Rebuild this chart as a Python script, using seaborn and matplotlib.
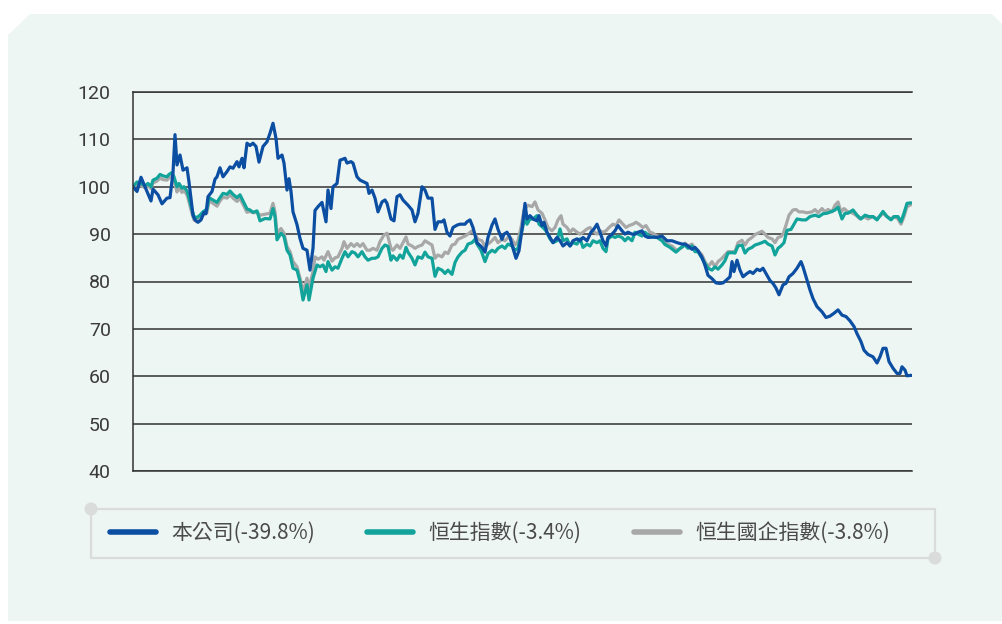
import numpy as np
import pandas as pd
import matplotlib
matplotlib.use('Agg')
import matplotlib.pyplot as plt
from matplotlib.patches import Polygon, Rectangle, Ellipse
from matplotlib.lines import Line2D
import seaborn as sns

# legend labels (draw order is reversed so the company line sits on top)
series_names = ['本公司(-39.8%)', '恒生指數(-3.4%)', '恒生國企指數(-3.8%)']
series_colors = ['#0B4EA2', '#12A39B', '#A8A8A8']

# 本公司 - days since start / rebased value
company_days = [0, 4, 8, 12, 18, 20, 25, 29, 34, 37, 40, 42, 44, 47, 50, 54, 56, 60, 62, 65,
                68, 71, 73, 75, 79, 82, 84, 87, 90, 94, 97, 100, 104, 106, 109, 111, 114, 117, 120, 123,
                126, 130, 134, 137, 140, 143, 145, 149, 151, 154, 156, 158, 160, 164, 167, 170, 174, 177, 180, 182,
                185, 189, 191, 193, 195, 198, 200, 204, 207, 212, 214, 218, 220, 224, 227, 231, 234, 236, 239, 242,
                245, 249, 252, 254, 258, 261, 264, 267, 270, 275, 279, 282, 285, 289, 292, 295, 299, 302, 305, 309,
                311, 314, 317, 320, 324, 327, 332, 334, 337, 340, 344, 349, 352, 355, 359, 362, 365, 369, 371, 374,
                377, 380, 383, 386, 389, 392, 394, 397, 400, 404, 406, 409, 411, 414, 417, 420, 424, 427, 430, 434,
                437, 440, 444, 447, 450, 454, 458, 461, 464, 467, 470, 473, 475, 479, 482, 485, 489, 492, 495, 499,
                502, 505, 509, 512, 515, 520, 524, 529, 534, 539, 544, 549, 552, 555, 559, 562, 565, 569, 572, 575,
                579, 583, 587, 590, 594, 597, 599, 601, 604, 607, 610, 614, 617, 620, 624, 627, 630, 634, 637, 640,
                643, 646, 650, 653, 656, 660, 664, 668, 670, 674, 677, 680, 684, 689, 693, 697, 701, 705, 709, 713,
                717, 721, 724, 728, 731, 735, 740, 744, 747, 750, 753, 756, 760, 764, 767, 769, 772, 774, 778]
company_vals = [100, 99, 102, 100, 97, 99.5, 98.3, 96.4, 97.6, 97.7, 103, 111, 104.6, 106.7, 103.5, 104, 101, 94, 93, 92.5,
                93, 94.6, 94.3, 97.9, 99, 101.6, 102.1, 104, 102.1, 103.2, 104.2, 103.9, 105.3, 104.2, 106, 104, 109.2, 108.7, 109.2, 108.5,
                105.2, 108.5, 109.5, 111.3, 113.4, 110.2, 106, 106.7, 105, 99.3, 101.7, 99, 94.7, 92, 89.1, 87, 86.6, 82.4, 87, 95,
                95.8, 96.7, 94.7, 92.6, 99.3, 95.4, 100, 100.7, 105.6, 106, 105, 105.3, 105, 102.1, 101.4, 101, 100.7, 98.6, 99.3, 97.6,
                94.7, 96.8, 97.2, 96.5, 93.2, 92.8, 97.9, 98.3, 97.2, 96.1, 95.1, 92.6, 94.4, 100, 99.3, 97.6, 97.6, 91, 92.6, 92.6,
                93, 90.4, 89.6, 91.4, 91.9, 92.1, 92.1, 92.6, 93, 91.4, 88.2, 87.2, 86.2, 89.3, 91.9, 93.2, 91, 88.9, 90, 90.4,
                89.3, 87, 84.9, 86.5, 91, 96.5, 93.2, 93.9, 93.2, 92.8, 93.9, 91.8, 92.5, 90.4, 89.3, 88.2, 89.3, 88.6, 87.5, 88.2,
                87.5, 88.6, 89, 88.6, 89.3, 88.6, 90.4, 91.1, 92.1, 90.4, 88.6, 87.5, 89.3, 90, 90.7, 91.8, 90.7, 90, 90.4, 90,
                90, 90.4, 90.7, 89.6, 89.3, 89.4, 89.3, 89.6, 88.6, 88.6, 88.2, 87.9, 87.9, 87.5, 86.8, 87.2, 86.5, 85.1, 83.4, 81.3,
                80.6, 79.7, 79.6, 79.7, 80.4, 81, 84.2, 82.1, 84.5, 82.4, 81, 81.7, 82.1, 81.7, 82.6, 82.3, 82.8, 81.3, 80.2, 79.6,
                78.6, 77.2, 79.3, 79.6, 81, 81.7, 82.8, 84.2, 83.1, 80.3, 78.2, 76.4, 74.7, 73.6, 72.4, 72.7, 73.3, 74, 72.9, 72.6,
                71.7, 70.5, 69, 67.3, 65.5, 64.6, 64.1, 62.8, 64.1, 65.9, 65.9, 63.1, 61.7, 60.6, 60.6, 62, 61.3, 60.1, 60.2]

# 恒生指數
hsi_days = [0, 4, 8, 12, 15, 18, 20, 24, 27, 30, 34, 36, 39, 41, 44, 46, 49, 51, 54, 56,
            59, 61, 64, 67, 70, 74, 76, 80, 84, 87, 90, 94, 97, 100, 104, 107, 110, 114, 117, 120,
            124, 127, 132, 137, 140, 142, 144, 148, 151, 154, 157, 160, 164, 167, 170, 174, 176, 180, 184, 187,
            190, 193, 195, 199, 202, 205, 209, 212, 215, 219, 222, 225, 229, 232, 235, 239, 242, 245, 249, 252,
            255, 258, 260, 264, 267, 270, 273, 275, 279, 282, 285, 289, 292, 295, 299, 302, 305, 309, 312, 315,
            319, 322, 325, 329, 332, 335, 339, 342, 344, 348, 352, 355, 359, 362, 365, 369, 372, 375, 379, 382,
            385, 388, 392, 394, 397, 400, 404, 406, 410, 413, 417, 420, 424, 427, 430, 434, 437, 440, 444, 447,
            450, 454, 457, 460, 464, 467, 470, 473, 475, 479, 482, 485, 489, 492, 495, 499, 502, 505, 509, 512,
            517, 524, 529, 532, 537, 543, 547, 552, 555, 559, 562, 565, 569, 572, 575, 579, 582, 585, 589, 592,
            595, 599, 602, 605, 609, 612, 615, 619, 622, 625, 629, 632, 635, 639, 642, 645, 648, 651, 654, 658,
            661, 664, 669, 673, 677, 682, 686, 690, 694, 699, 702, 705, 709, 712, 715, 720, 724, 728, 732, 736,
            740, 744, 750, 754, 758, 761, 765, 768, 771, 774, 778]
hsi_vals = [100, 101, 100.7, 100.2, 100.7, 100, 101.4, 101.8, 102.6, 102.3, 102.1, 102.6, 103, 102.1, 100, 100.7, 99.7, 100, 99.1, 97.6,
            95.1, 93.7, 93.5, 94, 94.7, 95.3, 97.7, 97.2, 96.7, 97.7, 98.6, 98.4, 99.1, 98.4, 97.7, 98.3, 97, 95.3, 95.1, 94.6,
            94.9, 92.8, 93.3, 93.2, 95.4, 93.7, 88.8, 90.2, 89.5, 86.6, 85.6, 82.8, 82.4, 80, 76.1, 79.3, 76.1, 80.7, 83.5, 83.1,
            83.5, 82.1, 84.2, 82.4, 83.1, 82.8, 84.9, 86.3, 85.2, 86.3, 86, 85.2, 86.3, 85.2, 84.5, 84.9, 84.9, 85.2, 87, 87.7,
            87.4, 84.5, 85.4, 84.5, 85.6, 84.9, 87.2, 86.2, 84.9, 83.5, 85.2, 84.9, 86.2, 85.2, 84.9, 81.1, 82.8, 82.4, 81.7, 82.4,
            81.5, 84, 85.2, 86.2, 86.6, 87.9, 88.2, 88.9, 87.9, 86.6, 84.2, 85.9, 86.6, 86.2, 87, 87.5, 87, 87.9, 87.5, 86.6,
            87, 90, 93.5, 92.1, 93.2, 93.2, 93.9, 92.1, 91.4, 90.7, 89, 88.2, 88.6, 91.1, 88.6, 89, 87.5, 88.2, 87.9, 89,
            87.2, 87.9, 87.5, 88.6, 88.2, 88.6, 87, 86.3, 89, 89.6, 89.3, 89.6, 89.3, 88.6, 89.3, 88.6, 90.4, 90, 89.6, 90.4,
            89.4, 89.3, 88.6, 87.8, 87.2, 86.2, 87, 87.7, 87, 87.5, 86.3, 86.3, 84.9, 83.8, 82.8, 82.4, 83.1, 82.6, 83.5, 84.4,
            86, 86.1, 86, 87.5, 87.7, 86, 86.8, 87.2, 87.7, 87.9, 88.2, 88.5, 87.9, 87.5, 85.6, 87, 87.5, 88.2, 90.8, 91,
            92.1, 93.2, 93, 93, 93.7, 94, 93.7, 94.3, 94.4, 94.8, 95.1, 95.7, 93.2, 94.4, 94.4, 95.1, 94, 93.2, 94, 93.7,
            93.7, 93, 94.8, 93.7, 93, 93.7, 93.7, 92.6, 94.4, 96.5, 96.6]

# 恒生國企指數
hscei_days = [0, 4, 8, 12, 15, 18, 20, 24, 27, 30, 34, 36, 39, 41, 44, 46, 49, 51, 54, 56,
              59, 61, 64, 67, 70, 74, 76, 80, 84, 87, 90, 94, 97, 100, 104, 107, 110, 114, 117, 120,
              124, 127, 132, 137, 140, 142, 144, 148, 151, 154, 157, 160, 164, 167, 170, 174, 176, 180, 182, 185,
              189, 191, 195, 199, 202, 205, 209, 211, 214, 218, 221, 224, 227, 230, 234, 237, 240, 244, 247, 251,
              254, 258, 260, 264, 267, 270, 273, 275, 279, 282, 285, 289, 292, 295, 299, 302, 305, 309, 312, 315,
              319, 322, 325, 329, 332, 335, 339, 342, 345, 349, 352, 355, 359, 362, 365, 369, 372, 375, 379, 382,
              385, 388, 391, 395, 399, 402, 405, 409, 412, 415, 419, 422, 425, 428, 430, 434, 437, 440, 444, 447,
              450, 454, 457, 460, 464, 467, 470, 473, 476, 480, 483, 486, 490, 493, 496, 500, 503, 506, 510, 513,
              517, 520, 524, 529, 534, 539, 544, 549, 552, 555, 559, 562, 565, 569, 572, 575, 579, 582, 585, 589,
              592, 595, 599, 602, 605, 609, 612, 615, 619, 622, 625, 629, 632, 635, 639, 642, 645, 648, 650, 653,
              656, 660, 663, 666, 670, 674, 679, 682, 685, 689, 692, 695, 699, 702, 705, 708, 711, 715, 719, 723,
              727, 731, 735, 740, 744, 750, 754, 758, 761, 765, 768, 771, 774, 778]
hscei_vals = [100, 100.5, 100.2, 99.8, 100.2, 99.6, 100.8, 101.2, 101.8, 101.5, 101.4, 101.9, 102.3, 101.4, 98.9, 99.8, 98.8, 99.2, 98.3, 96.8,
              94.3, 93, 92.6, 93.2, 94, 94.6, 97, 96.5, 95.9, 97, 97.8, 97.6, 98.3, 97.6, 96.9, 97.5, 96.3, 94.6, 94.8, 94.5,
              94.6, 94, 94.2, 94.4, 96.5, 94.7, 90.2, 91.2, 90.2, 87.4, 86.3, 84.2, 83.1, 80.7, 77.8, 80.7, 78.6, 82.1, 85.2, 84.7,
              85.2, 84.5, 86.3, 84.3, 85, 85.2, 87, 88.4, 87, 88, 87.4, 88, 87.4, 88, 86.6, 86.6, 87, 86.6, 88.4, 89.8,
              90.2, 87, 86.6, 87.7, 87, 88.2, 89.4, 87.9, 87.5, 87, 87.4, 87.7, 88.6, 88.2, 87.7, 84.9, 85.6, 85.2, 86.2, 85.9,
              87.7, 87.9, 88.9, 89.3, 89.6, 90, 90.7, 90, 88.9, 88.6, 87.4, 87.9, 88.6, 89.3, 88.2, 88.9, 88.6, 89.3, 88.9, 87.7,
              88.6, 91.4, 95.1, 96.1, 95.8, 96.8, 95.1, 94.4, 93, 91.4, 90.7, 91.4, 93, 93.9, 92.1, 91.4, 90.4, 91.1, 90.4, 90,
              90.4, 91.1, 91.4, 90.7, 90, 90.7, 90.4, 90.7, 91.4, 92.1, 91.8, 93, 92.1, 91.4, 91.8, 92.1, 92.5, 92.1, 91.4, 91.8,
              90.4, 90.2, 89.6, 89.3, 87.9, 87.5, 86.5, 87.2, 88.1, 87.5, 87.9, 87, 86.5, 85.6, 84.2, 83.1, 84.2, 83.1, 84.2, 84.9,
              85.6, 86.3, 86.3, 86.3, 88.2, 88.7, 87.7, 88.7, 89.3, 89.9, 90.2, 90.6, 90, 89.3, 89, 88.2, 89.3, 89.5, 90, 91.9,
              94, 95.1, 95.2, 94.7, 94.7, 94.5, 94.7, 95.2, 94.5, 95.4, 94.7, 95.2, 94.7, 96.1, 96.8, 94.7, 95.4, 94.7, 94.5, 94,
              93.2, 93.7, 93.2, 93.7, 93.2, 94.4, 93.7, 93.2, 93.7, 93.2, 92.1, 93.7, 95.8, 96.2]

y_ticks = [40, 50, 60, 70, 80, 90, 100, 110, 120]

frames = []
for name, d, v in [(series_names[0], company_days, company_vals),
                   (series_names[1], hsi_days, hsi_vals),
                   (series_names[2], hscei_days, hscei_vals)]:
    frames.append(pd.DataFrame({'day': d, 'value': v, 'series': name}))
df = pd.concat(frames, ignore_index=True)

sns.set_theme(style='white')
plt.rcParams['font.family'] = ['Noto Sans CJK TC', 'DejaVu Sans']

W, H = 1003, 624
fig = plt.figure(figsize=(W / 100, H / 100), dpi=100)
fig.patch.set_facecolor('white')

# mint panel with cut corners, kept behind the axes
panel = [(8, 35), (30, 14), (992, 14), (1003, 25), (1003, 621), (8, 621)]
fig.patches.append(Polygon([(x / W, 1 - y / H) for x, y in panel], closed=True,
                           transform=fig.transFigure, facecolor='#EEF6F4', edgecolor='none', zorder=-5))

ax = fig.add_axes([133 / W, 1 - 471 / H, (912 - 133) / W, (471 - 92) / H])
ax.set_facecolor('none')
ax.set_zorder(2)

palette = dict(zip(series_names, series_colors))
sns.lineplot(data=df, x='day', y='value', hue='series', hue_order=series_names[::-1],
             palette=palette, estimator=None, sort=False, linewidth=2.3, legend=False, ax=ax)

ax.set_xlim(0, 779)
ax.set_ylim(40, 120)
ax.set_yticks(y_ticks)
ax.set_xticks([])
ax.set_xlabel('')
ax.set_ylabel('')
ax.yaxis.grid(True, color='#333333', linewidth=1.1)
ax.set_axisbelow(True)
for side in ['top', 'bottom', 'left']:
    ax.spines[side].set_visible(True)
    ax.spines[side].set_color('#333333')
    ax.spines[side].set_linewidth(1.1)
ax.spines['right'].set_visible(False)
ax.tick_params(axis='y', length=0, pad=16, labelsize=14, labelcolor='#3A3A3A')
for lbl in ax.get_yticklabels():
    lbl.set_family(['Roboto', 'DejaVu Sans'])

# legend box with corner dots
box_col = '#DADCDC'
fig.patches.append(Rectangle((91 / W, 1 - 558 / H), (935 - 91) / W, (558 - 509) / H,
                             transform=fig.transFigure, facecolor='none', edgecolor=box_col, linewidth=1.6))
for cx, cy in [(91, 509), (935, 558)]:
    fig.patches.append(Ellipse((cx / W, 1 - cy / H), 13 / W, 13 / H, transform=fig.transFigure,
                               facecolor=box_col, edgecolor='none'))

handles = [Line2D([], [], color=c, linewidth=4, solid_capstyle='round') for c in series_colors]
fig.legend(handles, series_names, loc='center', bbox_to_anchor=(500 / W, 1 - 533 / H), ncol=3,
           frameon=False, fontsize=15, handlelength=2.2, handletextpad=0.75, columnspacing=2.5,
           labelcolor='#4A4A4A')

fig.savefig('out.png', dpi=100, facecolor='white')
